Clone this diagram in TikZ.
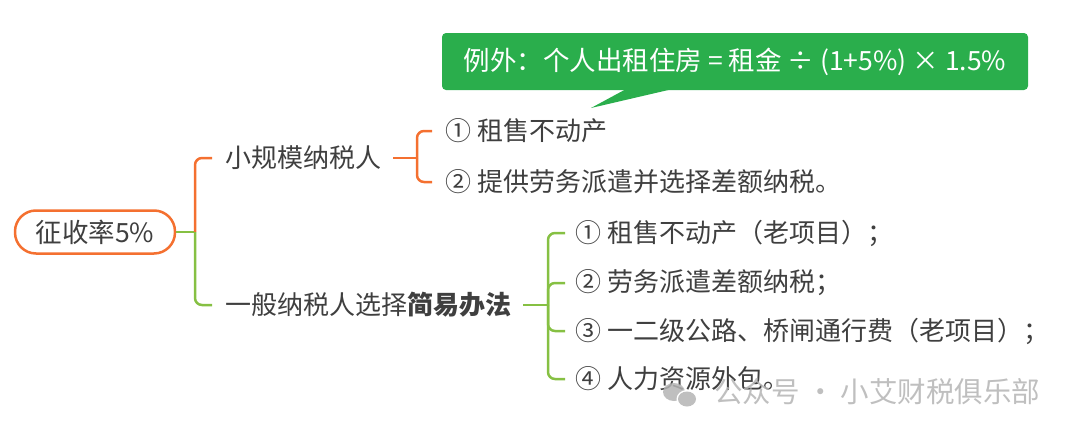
\documentclass[tikz,border=0pt]{standalone}
\usepackage{fontspec}
\setmainfont{Noto Sans CJK SC}
\usetikzlibrary{calc}
\definecolor{txtc}{HTML}{3F3F3F}
\definecolor{orangec}{HTML}{F47030}
\definecolor{greenc}{HTML}{86C043}
\definecolor{callg}{HTML}{2AAE4C}
\definecolor{wmc}{HTML}{B4B4B4}
\begin{document}
\begin{tikzpicture}[x=1pt,y=-1pt,
  txt/.style={font=\fontsize{26}{30}\selectfont, text=txtc, inner sep=0pt, anchor=west},
  rootbox/.style={draw=orangec, line width=2.5pt, rounded corners=21pt, minimum width=160pt, minimum height=43pt, inner sep=0pt, font=\fontsize{26.5}{30}\selectfont, text=txtc},
  oline/.style={draw=orangec, line width=2.5pt},
  gline/.style={draw=greenc, line width=2.5pt},
  callbox/.style={fill=callg, rounded corners=4pt, minimum width=586pt, minimum height=57pt, inner sep=0pt, text=white, font=\fontsize{26.5}{28}\selectfont},
  wm/.style={text=wmc, font=\fontsize{28.5}{32}\selectfont, inner sep=0pt, opacity=0.85}
]
\useasboundingbox (0,0) rectangle (1080,434);

% root
\node[rootbox] (root) at (95,232) {征收率5\%};
\node[txt] (n1) at (225,158) {小规模纳税人};
\node[txt] (n2) at (225,305) {一般纳税人选择\textbf{简易办法}};

\node[txt] (a1) at (445,131) {① 租售不动产};
\node[txt] (a2) at (445,182) {② 提供劳务派遣并选择差额纳税。};

\node[txt] (b1) at (575,233) {① 租售不动产（老项目）；};
\node[txt] (b2) at (575,283) {② 劳务派遣差额纳税；};
\node[txt] (b3) at (575,331) {③ 一二级公路、桥闸通行费（老项目）；};
\node[txt] (b4) at (575,379) {④ 人力资源外包。};

% connectors
\coordinate (j0) at (195,232);
\draw[gline] (root.east) -- (j0);
\draw[oline, rounded corners=7pt] (j0) |- ($(n1.west)+(-13,0)$);
\draw[gline, rounded corners=7pt] (j0) |- ($(n2.west)+(-13,0)$);

\coordinate (j1) at (417,158);
\draw[oline] ($(n1.east)+(12,0)$) -- (j1);
\draw[oline, rounded corners=7pt] (j1) |- ($(a1.west)+(-13,0)$);
\draw[oline, rounded corners=7pt] (j1) |- ($(a2.west)+(-13,0)$);

\coordinate (j2) at (548,305);
\draw[gline] ($(n2.east)+(12,0)$) -- (j2);
\draw[gline, rounded corners=7pt] (j2) |- ($(b1.west)+(-10,0)$);
\draw[gline, rounded corners=7pt] (j2) |- ($(b2.west)+(-10,0)$);
\draw[gline, rounded corners=7pt] (j2) |- ($(b3.west)+(-10,0)$);
\draw[gline, rounded corners=7pt] (j2) |- ($(b4.west)+(-10,0)$);

% callout
\node[callbox] (co) at (735,61.5) {例外：个人出租住房 = 租金 ÷ (1+5\%) × 1.5\%};
\coordinate (tip) at (591,108);
\fill[callg] ($(co.south west)+(184,-1)$) -- ($(co.south west)+(230,-1)$) -- (tip) -- cycle;

% watermark
\fill[wmc, opacity=0.85] (674,392) ellipse (11pt and 9pt);
\fill[white] (687,399) ellipse (10.5pt and 9pt);
\fill[wmc, opacity=0.85] (687,399) ellipse (9pt and 7.5pt);
\node[wm, anchor=west] (wm) at (714,392) {公众号 · 小艾财税俱乐部};
\end{tikzpicture}
\end{document}
